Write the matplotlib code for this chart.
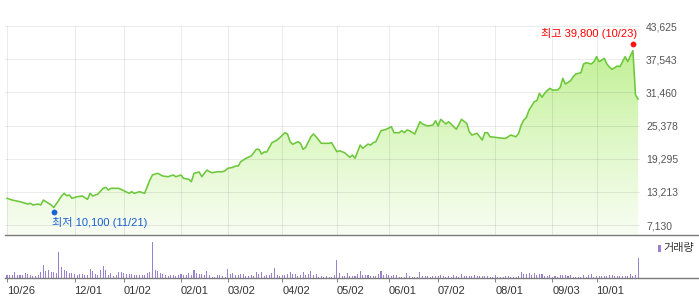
import numpy as np
import matplotlib
matplotlib.use('Agg')
import matplotlib.pyplot as plt
from matplotlib.lines import Line2D
from matplotlib.patches import Rectangle
from matplotlib.colors import LinearSegmentedColormap
from matplotlib import transforms

plt.rcParams['font.family'] = ['Liberation Sans', 'Noto Sans CJK KR']

# trading day index (0 = 10/26) and closing price
price_day = [0, 2, 5, 8, 9, 10, 12, 13, 14, 15, 17, 18, 20, 21, 22, 23, 24, 25, 27, 29,
             31, 32, 33, 35, 37, 38, 39, 40, 43, 45, 47, 48, 49, 51, 53, 54, 55, 56, 58, 60,
             62, 64, 65, 67, 68, 70, 71, 72, 74, 75, 77, 78, 79, 81, 83, 84, 85, 87, 88, 89,
             90, 92, 94, 96, 97, 98, 99, 100, 102, 104, 105, 107, 108, 109, 110, 112, 113, 114, 115, 117,
             118, 119, 121, 122, 124, 125, 127, 128, 130, 131, 132, 133, 134, 136, 137, 139, 140, 141, 142, 144,
             146, 148, 149, 151, 152, 153, 154, 155, 157, 159, 160, 162, 164, 165, 166, 167, 169, 170, 171, 173,
             175, 177, 178, 179, 181, 182, 183, 184, 185, 186, 188, 191, 192, 193, 194, 196, 197, 198, 199, 200,
             201, 202, 203, 204, 205, 206, 207, 208, 209, 210, 212, 213, 214, 215, 217, 218, 219, 221, 222, 223,
             225, 226, 227, 228, 230, 231, 232, 233, 235, 236, 237, 238, 239, 240, 241, 242, 243]
price_close = [12030, 11710, 11400, 10980, 11110, 10800, 10980, 10800, 11710, 11400, 10800, 10330, 11710, 12450, 12940, 12500, 12630, 12030, 12320, 12450,
               11840, 12940, 12450, 12810, 13860, 14040, 13550, 13860, 13860, 13420, 12940, 13240, 12940, 13240, 12940, 14150, 15380, 16300, 16610, 16115,
               15990, 16300, 15990, 16300, 15690, 15510, 15070, 16610, 16850, 15990, 17215, 16900, 16720, 16900, 16900, 17090, 17530, 17710, 17950, 17950,
               18740, 19360, 19780, 21010, 21010, 20150, 20520, 20520, 22220, 22720, 23140, 24060, 23820, 22410, 21930, 22410, 22110, 21010, 21380, 23320,
               23820, 23320, 22110, 22110, 22110, 22220, 20570, 20755, 20390, 19970, 19545, 19970, 19360, 21800, 21195, 21980, 21800, 22220, 22400, 24420,
               24680, 25160, 24060, 24060, 24420, 24060, 24550, 24420, 23820, 26070, 25650, 25285, 25470, 26260, 25285, 26510, 25650, 26070, 25650, 24680,
               26510, 25780, 24240, 23630, 23950, 23320, 22720, 24060, 24060, 23320, 23210, 23030, 23030, 23320, 23630, 23320, 23950, 25470, 26390, 26880,
               28220, 28950, 29740, 29930, 31280, 30550, 31280, 31760, 32200, 31890, 31890, 32380, 34030, 32990, 33590, 34330, 34820, 35060, 36660, 36900,
               36660, 37080, 38000, 37080, 37700, 36660, 36050, 35690, 36290, 36160, 37080, 38000, 37080, 38130, 39100, 30970, 30230]

# daily volume (relative bar heights), one per trading day
volume = [8, 8, 8, 18, 8, 8, 8, 14, 12, 8, 6, 6, 8, 18, 38, 21, 24, 18, 18, 14,
          78, 33, 24, 21, 16, 14, 11, 8, 12, 12, 8, 8, 27, 21, 12, 8, 24, 36, 24, 8,
          14, 6, 8, 18, 18, 14, 12, 12, 12, 8, 8, 8, 8, 8, 14, 18, 108, 24, 21, 14,
          12, 8, 6, 8, 8, 6, 8, 12, 8, 8, 14, 8, 24, 14, 12, 12, 8, 21, 8, 4,
          4, 8, 8, 6, 4, 27, 12, 14, 8, 8,
          11, 11, 6, 6, 8, 6, 18, 11, 18, 6, 8, 8, 14, 30, 8, 6, 8, 8, 11, 18,
          11, 11, 6, 8, 18, 8, 11, 21, 8, 11, 4, 6, 4, 6, 4, 4, 8, 54, 14, 6,
          6, 14, 6, 6, 6, 11, 21, 8, 8, 8, 6, 6, 6, 11, 21, 8, 11, 8, 6, 8,
          8, 2, 4, 4, 14, 6, 4, 4, 4, 18, 6, 6, 6, 4, 6, 6, 6, 8, 6, 4,
          6, 4, 8, 6, 4,
          11, 6, 6, 6, 6, 8, 6, 6, 6, 6, 6, 4, 4, 8, 4, 4, 4, 6, 6, 4,
          4, 4, 6, 18, 11, 11, 14, 8, 14, 8, 11, 11, 6, 6, 8, 4, 6, 4, 8, 8,
          8, 6, 8, 4, 4, 4, 4, 8, 4, 8, 11, 4, 6, 6, 6, 6, 6, 8, 8, 6,
          6, 6, 6, 6, 6, 11, 6, 8, 60, 34]

tick_day = [0, 26, 45, 67, 85, 106, 127, 147, 166, 188, 210, 227]
tick_label = ['10/26', '12/01', '01/02', '02/01', '03/02', '04/02', '05/02',
              '06/01', '07/02', '08/01', '09/03', '10/01']
price_ticks = [7130, 13213, 19295, 25378, 31460, 37543, 43625]

hi_day, hi_val, hi_date = 241, 39800, '10/23'
lo_day, lo_val, lo_date = 18, 10100, '11/21'

W, H = 699, 304
fig = plt.figure(figsize=(W / 100, H / 100), dpi=100)


def box(x0, y0, x1, y1):
    return [x0 / W, 1 - y1 / H, (x1 - x0) / W, (y1 - y0) / H]


xlim = (-0.77, 243.73)
ylo, yhi = 5298, 43625

# ---- price panel
ax = fig.add_axes(box(5, 26, 640, 235))
ax.set_xlim(*xlim)
ax.set_ylim(ylo, yhi)

poly = ax.fill_between(price_day, price_close, ylo, color='none', lw=0)
cmap = LinearSegmentedColormap.from_list('g', ['#f8fdf3', '#dcf7c2', '#b9ee88'])
grad = np.linspace(0, 1, 256).reshape(-1, 1)
im = ax.imshow(grad, extent=[xlim[0], xlim[1], ylo, yhi], aspect='auto',
               origin='lower', cmap=cmap, zorder=1)
im.set_clip_path(poly.get_paths()[0], transform=ax.transData)

ax.plot(price_day, price_close, color='#6cc83a', lw=1.15, zorder=3)

ax.set_xticks(tick_day)
ax.set_yticks(price_ticks)
ax.set_yticklabels([f'{v:,}' for v in price_ticks])
ax.yaxis.tick_right()
ax.tick_params(axis='x', length=0, labelbottom=False)
ax.tick_params(axis='y', length=0, pad=4.3, labelsize=7.5, labelcolor='#555555')
ax.grid(True, color='black', alpha=0.08, lw=0.75, zorder=2)
for s in ax.spines.values():
    s.set_visible(False)

# high / low markers
up = transforms.offset_copy(ax.transData, fig=fig, x=0, y=3, units='dots')
dn = transforms.offset_copy(ax.transData, fig=fig, x=0, y=-3, units='dots')
ax.plot(hi_day, hi_val, 'o', ms=4.2, color='#ff1414', mec='none', transform=up,
        clip_on=False, zorder=5)
ax.plot(lo_day, lo_val, 'o', ms=4.2, color='#1a64d8', mec='none', transform=dn,
        clip_on=False, zorder=5)
ax.annotate(f'최고 {hi_val:,} ({hi_date})', xy=(hi_day, hi_val), xytext=(2.9, 9.7),
            textcoords='offset points', ha='right', va='center', fontsize=8,
            color='#ff0000', annotation_clip=False)
ax.annotate(f'최저 {lo_val:,} ({lo_date})', xy=(lo_day, lo_val), xytext=(-1.4, -9.9),
            textcoords='offset points', ha='left', va='center', fontsize=8,
            color='#1a5fd0', annotation_clip=False)

# ---- volume panel
axv = fig.add_axes(box(5, 236, 640, 278))
axv.bar(np.arange(len(volume)), volume, width=0.4, color='#9a80cf', lw=0,
        antialiased=False)
axv.set_xlim(*xlim)
axv.set_ylim(0, 126)
axv.set_yticks([])
axv.set_xticks(tick_day)
axv.set_xticklabels(tick_label)
for lbl in axv.get_xticklabels():
    lbl.set_ha('left')
axv.tick_params(axis='x', direction='out', length=2.9, width=0.75, color='#888888',
                pad=2.5, labelsize=8, labelcolor='#333333')
for s in axv.spines.values():
    s.set_visible(False)

# axis lines across the full width
for yy in (235, 278):
    fig.add_artist(Line2D([5 / W, 1], [1 - yy / H] * 2, color='#7a7a7a', lw=1.0))

# volume legend
fig.add_artist(Rectangle((658 / W, 1 - 252 / H), 2.5 / W, 7.5 / H, color='#9a80cf', lw=0))
fig.text(663 / W, 1 - 248 / H, '거래량', ha='left', va='center', fontsize=8, color='#333333')

fig.savefig('out.png', dpi=100)
